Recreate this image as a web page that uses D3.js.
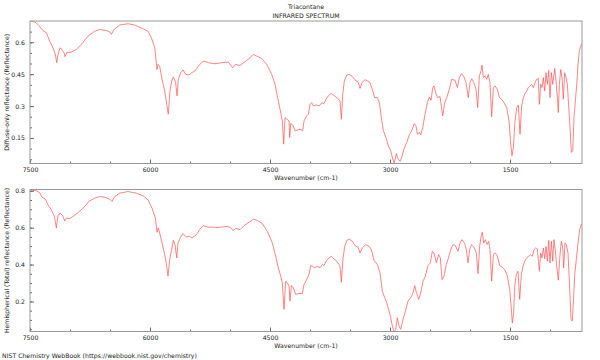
<!DOCTYPE html>
<meta charset="utf-8">
<style>
body { margin: 0; background: #fff; }
svg text { font-family: "DejaVu Sans", sans-serif; font-size: 6.2px; fill: #222; }
.frame { fill: none; stroke: #999; stroke-width: 1; }
.axis path { display: none; }
.axis line { stroke: #666; }
.spec { fill: none; stroke: #ff5050; stroke-width: 0.7; }
</style>
<body>
<script src="https://cdn.jsdelivr.net/npm/d3@7"></script>
<script>

var title = "Triacontane",
    subtitle = "INFRARED SPECTRUM",
    xTitle = "Wavenumber (cm-1)",
    footer = "NIST Chemistry WebBook (https://webbook.nist.gov/chemistry)";

var xMajor = [7500, 6000, 4500, 3000, 1500];
var xMinor = [7500, 7000, 6500, 6000, 5500, 5000, 4500, 4000, 3500, 3000, 2500, 2000, 1500, 1000];

// diffuse-only reflectance
var diffuseTitle = "Diffuse-only reflectance (Reflectance)";
var diffuseTicks = [0.15, 0.3, 0.45, 0.6];
var diffuseWn = [7500, 7491, 7441, 7400, 7338, 7296, 7254, 7212, 7183, 7166, 7150, 7125, 7100, 7075, 7062, 7041, 6983, 6921, 6858, 6775,
  6691, 6629, 6546, 6504, 6483, 6450, 6379, 6275, 6191, 6087, 6025, 5983, 5941, 5912, 5900, 5879, 5850, 5816, 5791, 5771,
  5750, 5729, 5708, 5679, 5662, 5646, 5616, 5587, 5554, 5512, 5479, 5437, 5396, 5333, 5271, 5187, 5104, 5021, 4967, 4929,
  4875, 4812, 4750, 4708, 4666, 4604, 4541, 4479, 4437, 4396, 4362, 4346, 4329, 4312, 4287, 4262, 4254, 4241, 4216, 4187,
  4125, 4091, 4075, 4041, 4021, 4000, 3979, 3958, 3925, 3883, 3854, 3825, 3800, 3771, 3741, 3708, 3675, 3641, 3625, 3608,
  3591, 3571, 3541, 3508, 3466, 3425, 3400, 3375, 3350, 3312, 3279, 3250, 3216, 3191, 3158, 3133, 3108, 3083, 3050, 3021,
  2991, 2966, 2946, 2921, 2900, 2875, 2854, 2825, 2791, 2758, 2729, 2696, 2675, 2658, 2633, 2616, 2591, 2562, 2533, 2508,
  2487, 2466, 2450, 2433, 2408, 2375, 2341, 2316, 2291, 2258, 2229, 2187, 2158, 2133, 2104, 2075, 2050, 2021, 2000, 1979,
  1950, 1925, 1904, 1883, 1862, 1850, 1833, 1812, 1791, 1771, 1750, 1729, 1708, 1687, 1658, 1633, 1604, 1575, 1541, 1512,
  1491, 1475, 1458, 1437, 1416, 1396, 1375, 1354, 1333, 1312, 1291, 1271, 1250, 1229, 1208, 1187, 1166, 1146, 1133, 1116,
  1100, 1083, 1066, 1050, 1033, 1016, 1000, 983, 966, 941, 925, 908, 896, 883, 866, 850, 833, 816, 800, 783,
  766, 750, 733, 716, 700, 683, 666, 650, 633, 616, 600];
var diffuse = [0.700, 0.699, 0.696, 0.683, 0.655, 0.645, 0.606, 0.574, 0.543, 0.504, 0.543, 0.574, 0.566, 0.551, 0.532, 0.551, 0.554, 0.566, 0.590, 0.629,
  0.652, 0.660, 0.655, 0.649, 0.637, 0.660, 0.681, 0.687, 0.681, 0.663, 0.652, 0.621, 0.574, 0.472, 0.496, 0.488, 0.426, 0.371, 0.308, 0.262,
  0.371, 0.418, 0.437, 0.410, 0.348, 0.426, 0.457, 0.470, 0.449, 0.446, 0.457, 0.465, 0.488, 0.512, 0.504, 0.499, 0.504, 0.507, 0.480, 0.496,
  0.491, 0.509, 0.527, 0.543, 0.535, 0.524, 0.496, 0.449, 0.402, 0.324, 0.262, 0.230, 0.121, 0.246, 0.238, 0.230, 0.152, 0.218, 0.212, 0.184,
  0.191, 0.184, 0.230, 0.254, 0.262, 0.308, 0.316, 0.301, 0.305, 0.301, 0.316, 0.312, 0.332, 0.348, 0.359, 0.352, 0.343, 0.332, 0.324, 0.238,
  0.355, 0.418, 0.446, 0.449, 0.437, 0.418, 0.415, 0.383, 0.410, 0.424, 0.418, 0.410, 0.371, 0.340, 0.340, 0.316, 0.246, 0.184, 0.152, 0.113,
  0.090, 0.051, 0.032, 0.077, 0.051, 0.040, 0.059, 0.098, 0.129, 0.165, 0.184, 0.218, 0.207, 0.168, 0.176, 0.165, 0.199, 0.262, 0.316, 0.343,
  0.327, 0.387, 0.395, 0.368, 0.340, 0.345, 0.254, 0.316, 0.340, 0.379, 0.426, 0.421, 0.387, 0.434, 0.452, 0.437, 0.410, 0.340, 0.410, 0.429,
  0.410, 0.379, 0.293, 0.442, 0.465, 0.493, 0.434, 0.442, 0.426, 0.449, 0.410, 0.249, 0.387, 0.395, 0.379, 0.340, 0.332, 0.316, 0.293, 0.230,
  0.121, 0.067, 0.105, 0.230, 0.293, 0.305, 0.168, 0.301, 0.340, 0.359, 0.371, 0.387, 0.395, 0.402, 0.387, 0.410, 0.426, 0.430, 0.308, 0.402,
  0.387, 0.434, 0.371, 0.457, 0.402, 0.468, 0.340, 0.457, 0.402, 0.477, 0.418, 0.340, 0.270, 0.402, 0.472, 0.434, 0.332, 0.457, 0.434, 0.402,
  0.296, 0.199, 0.082, 0.090, 0.246, 0.324, 0.402, 0.496, 0.559, 0.582, 0.595];

// hemispherical (total) reflectance
var totalTitle = "Hemispherical (Total) reflectance (Reflectance)";
var totalTicks = [0.2, 0.4, 0.6, 0.8];
var totalWn = [7500, 7421, 7379, 7350, 7308, 7275, 7233, 7200, 7183, 7171, 7150, 7125, 7091, 7066, 7046, 7004, 6962, 6908, 6858, 6808,
  6766, 6691, 6629, 6566, 6504, 6475, 6441, 6379, 6275, 6171, 6087, 6025, 5975, 5933, 5912, 5896, 5879, 5850, 5816, 5791,
  5775, 5754, 5733, 5708, 5687, 5666, 5650, 5616, 5587, 5546, 5504, 5475, 5421, 5379, 5337, 5275, 5212, 5150, 5116, 5033,
  4991, 4962, 4929, 4875, 4825, 4762, 4708, 4658, 4596, 4533, 4471, 4429, 4396, 4366, 4346, 4325, 4304, 4283, 4262, 4250,
  4233, 4208, 4179, 4137, 4096, 4075, 4041, 4012, 3991, 3966, 3941, 3908, 3875, 3846, 3825, 3791, 3762, 3733, 3700, 3666,
  3637, 3625, 3608, 3587, 3566, 3541, 3512, 3471, 3429, 3400, 3375, 3346, 3304, 3262, 3233, 3200, 3158, 3125, 3096, 3066,
  3041, 3012, 2991, 2971, 2950, 2929, 2908, 2887, 2866, 2837, 2808, 2775, 2741, 2712, 2691, 2671, 2641, 2616, 2587, 2558,
  2525, 2496, 2471, 2450, 2421, 2391, 2371, 2350, 2325, 2296, 2266, 2241, 2212, 2183, 2150, 2125, 2100, 2066, 2046, 2025,
  2004, 1983, 1950, 1921, 1900, 1879, 1858, 1846, 1829, 1808, 1787, 1766, 1750, 1729, 1708, 1683, 1658, 1629, 1600, 1566,
  1533, 1504, 1483, 1471, 1454, 1441, 1421, 1400, 1379, 1358, 1337, 1316, 1291, 1266, 1241, 1221, 1200, 1179, 1158, 1133,
  1116, 1100, 1083, 1066, 1050, 1033, 1016, 1000, 983, 966, 950, 933, 916, 896, 875, 858, 841, 829, 812, 796,
  775, 762, 750, 737, 721, 704, 691, 671, 650, 629, 612, 600];
var total = [0.805, 0.800, 0.790, 0.765, 0.755, 0.724, 0.697, 0.665, 0.634, 0.598, 0.665, 0.679, 0.665, 0.636, 0.652, 0.649, 0.661, 0.679, 0.697, 0.719,
  0.742, 0.760, 0.769, 0.765, 0.755, 0.742, 0.769, 0.787, 0.796, 0.787, 0.773, 0.751, 0.706, 0.652, 0.575, 0.598, 0.571, 0.517, 0.454, 0.391,
  0.337, 0.427, 0.472, 0.531, 0.508, 0.436, 0.517, 0.549, 0.568, 0.549, 0.553, 0.544, 0.562, 0.589, 0.611, 0.603, 0.603, 0.600, 0.603, 0.607,
  0.600, 0.584, 0.596, 0.589, 0.611, 0.629, 0.646, 0.639, 0.622, 0.580, 0.517, 0.445, 0.382, 0.337, 0.301, 0.157, 0.310, 0.301, 0.283, 0.202,
  0.286, 0.274, 0.238, 0.243, 0.243, 0.292, 0.319, 0.346, 0.395, 0.391, 0.382, 0.391, 0.382, 0.400, 0.395, 0.423, 0.436, 0.445, 0.431, 0.418,
  0.400, 0.391, 0.304, 0.436, 0.499, 0.530, 0.538, 0.526, 0.499, 0.495, 0.463, 0.490, 0.508, 0.499, 0.481, 0.423, 0.400, 0.355, 0.256, 0.220,
  0.193, 0.148, 0.112, 0.067, 0.035, 0.049, 0.112, 0.067, 0.049, 0.103, 0.148, 0.202, 0.220, 0.246, 0.286, 0.250, 0.211, 0.246, 0.310, 0.337,
  0.395, 0.409, 0.472, 0.463, 0.409, 0.454, 0.436, 0.319, 0.337, 0.400, 0.441, 0.481, 0.508, 0.503, 0.472, 0.517, 0.535, 0.514, 0.481, 0.409,
  0.481, 0.508, 0.495, 0.463, 0.351, 0.499, 0.562, 0.575, 0.517, 0.535, 0.508, 0.526, 0.481, 0.310, 0.454, 0.463, 0.445, 0.395, 0.387, 0.373,
  0.340, 0.265, 0.157, 0.084, 0.138, 0.283, 0.346, 0.364, 0.211, 0.346, 0.391, 0.418, 0.436, 0.445, 0.454, 0.445, 0.481, 0.490, 0.485, 0.364,
  0.463, 0.436, 0.490, 0.431, 0.499, 0.418, 0.531, 0.409, 0.526, 0.418, 0.535, 0.472, 0.391, 0.315, 0.454, 0.526, 0.490, 0.382, 0.517, 0.508,
  0.463, 0.346, 0.228, 0.103, 0.094, 0.228, 0.346, 0.427, 0.517, 0.589, 0.616, 0.620];

var width = 600,
    height = 360,
    left = 30,
    right = 582;

var svg = d3.select("body").append("svg")
    .attr("width", width)
    .attr("height", height);

var x = d3.scaleLinear().domain([7500, 600]).range([left, right]);

svg.append("text").attr("x", (left + right) / 2).attr("y", 9)
    .attr("text-anchor", "middle").text(title);
svg.append("text").attr("x", (left + right) / 2).attr("y", 18)
    .attr("text-anchor", "middle").text(subtitle);

function panel(id, top, bottom, yDomain, yTicks, yTitle, wn, vals) {
  var y = d3.scaleLinear().domain(yDomain).range([bottom, top]);
  var g = svg.append("g");

  g.append("clipPath").attr("id", id)
    .append("rect")
      .attr("x", left).attr("y", top)
      .attr("width", right - left).attr("height", bottom - top);

  var minorY = d3.range(0.05, yDomain[1], 0.05);

  g.append("g").attr("class", "axis")
      .attr("transform", "translate(" + left + ",0)")
      .call(d3.axisLeft(y).tickValues(minorY).tickSize(-2).tickFormat(""));
  g.append("g").attr("class", "axis")
      .attr("transform", "translate(" + left + ",0)")
      .call(d3.axisLeft(y).tickValues(yTicks).tickSize(-4).tickPadding(5).tickFormat(d3.format("")));

  g.append("g").attr("class", "axis")
      .attr("transform", "translate(0," + bottom + ")")
      .call(d3.axisBottom(x).tickValues(xMinor).tickSize(-2).tickFormat(""));
  g.append("g").attr("class", "axis")
      .attr("transform", "translate(0," + bottom + ")")
      .call(d3.axisBottom(x).tickValues(xMajor).tickSize(-4).tickPadding(4).tickFormat(d3.format("")));

  g.selectAll(".axis text").style("font-size", "6.2px").attr("fill", "#222");

  var line = d3.line()
      .x(function(d, i) { return x(wn[i]); })
      .y(function(d) { return y(d); });

  g.append("path")
      .datum(vals)
      .attr("class", "spec")
      .attr("clip-path", "url(#" + id + ")")
      .attr("d", line);

  g.append("rect").attr("class", "frame")
      .attr("x", left).attr("y", top)
      .attr("width", right - left).attr("height", bottom - top);

  g.append("text")
      .attr("transform", "translate(7," + (top + bottom) / 2 + ") rotate(-90)")
      .attr("text-anchor", "middle")
      .attr("dy", "0.35em")
      .text(yTitle);

  g.append("text")
      .attr("x", (left + right) / 2).attr("y", bottom + 16.5)
      .attr("text-anchor", "middle")
      .text(xTitle);
}

panel("clipA", 21, 163.5, [0.03, 0.70], diffuseTicks, diffuseTitle, diffuseWn, diffuse);
panel("clipB", 189.5, 331.5, [0.037, 0.807], totalTicks, totalTitle, totalWn, total);

svg.append("text").attr("x", 2).attr("y", 357.5).text(footer);

</script>
</body>
</html>
